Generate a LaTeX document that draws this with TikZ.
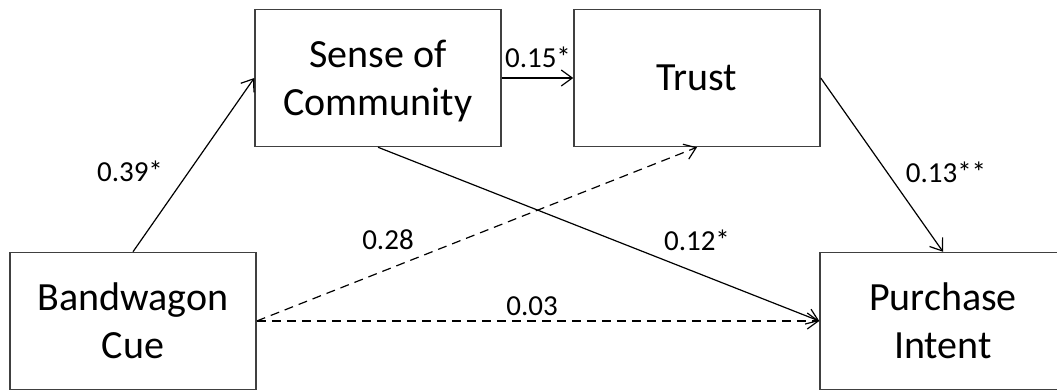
\documentclass[tikz,border=0pt]{standalone}
\usepackage{fontspec}
\setmainfont{Carlito}
\usetikzlibrary{arrows.meta}
\begin{document}
\begin{tikzpicture}[x=1pt,y=-1pt,
  varbox/.style={draw=black!75, line width=1.5pt, fill=white,
    minimum width=246pt, minimum height=137pt, inner sep=0pt,
    align=center, font=\fontsize{40}{48}\selectfont},
  path/.style={line width=1.2pt, draw=black,
    -{Straight Barb[length=11pt,width=16pt,line width=1.2pt]}},
  nonsig/.style={path, dash pattern=on 9pt off 6pt},
  coef/.style={inner sep=0pt, font=\fontsize{29}{35}\selectfont}]
\useasboundingbox (0,0) rectangle (1057,391);
\clip (0,0) rectangle (1057,391);

% constructs
\node[varbox] (bw) at (133,321) {Bandwagon\\Cue};
\node[varbox, text depth=0pt] (soc) at (378,78) {Sense of\\Community};
\node[varbox] (tr) at (697,78) {Trust};
\node[varbox] (pi) at (943,321) {Purchase\\Intent};

% paths
\draw[path] (bw.north) -- (soc.west);
\draw[path] (soc.east) -- (tr.west);
\draw[path] (tr.east) -- (pi.north);
\draw[path] (soc.south) -- (pi.west);
\draw[nonsig] (bw.east) -- (tr.south);
\draw[nonsig] (bw.east) -- (pi.west);

% coefficients
\node[coef] (c1) at (130,171) {0.39*};
\node[coef] (c2) at (538,57) {0.15*};
\node[coef] (c3) at (946,172) {0.13**};
\node[coef] (c4) at (388,240) {0.28};
\node[coef] (c5) at (697,240) {0.12*};
\node[coef] (c6) at (532,306) {0.03};
\end{tikzpicture}
\end{document}
